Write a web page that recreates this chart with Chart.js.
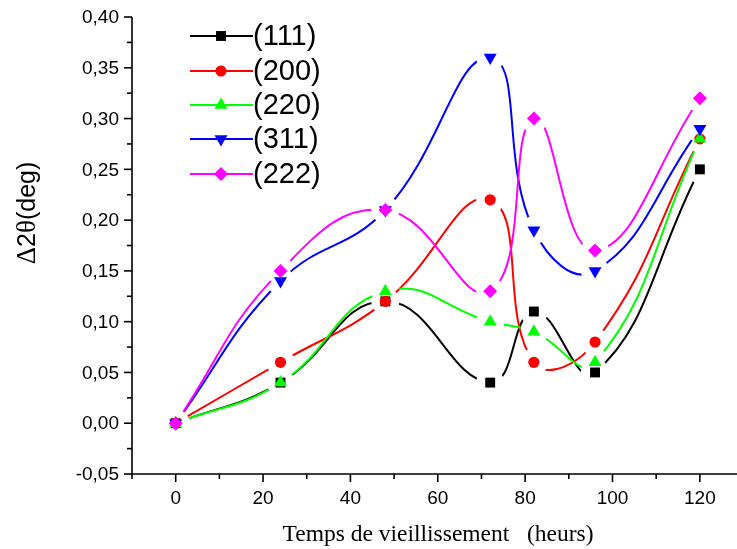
<!DOCTYPE html>
<html>
<head>
<meta charset="utf-8">
<script src="https://cdn.jsdelivr.net/npm/chart.js@4"></script>
<style>
  body { margin: 0; background: #fff; }
  canvas { display: block; }
</style>
</head>
<body>
<canvas id="chart" width="737" height="549"></canvas>
<script>
// ageing time (hours) and peak shift per reflection
const hours = [0, 24, 48, 72, 82, 96, 120];
const shift111 = [0, 0.04, 0.12, 0.04, 0.11, 0.05, 0.25];
const shift200 = [0, 0.06, 0.12, 0.22, 0.06, 0.08, 0.28];
const shift220 = [0, 0.04, 0.13, 0.10, 0.09, 0.06, 0.28];
const shift311 = [0, 0.14, 0.21, 0.36, 0.19, 0.15, 0.29];
const shift222 = [0, 0.15, 0.21, 0.13, 0.30, 0.17, 0.32];

const seriesNames = ['(111)', '(200)', '(220)', '(311)', '(222)'];
const xTicks = [0, 20, 40, 60, 80, 100, 120];
const yTicks = [-0.05, 0, 0.05, 0.10, 0.15, 0.20, 0.25, 0.30, 0.35, 0.40];

const xTitle = 'Temps de vieillissement   (heurs)';

const SANS = '"Liberation Sans", Arial, sans-serif';
const SERIF = '"Liberation Serif", "Times New Roman", serif';

const styles = [
    { color: '#000000', pointStyle: 'rect', radius: 7, rotation: 0 },
    { color: '#ff0000', pointStyle: 'circle', radius: 5.6, rotation: 0 },
    { color: '#00ff00', pointStyle: 'triangle', radius: 7.5, rotation: 0 },
    { color: '#0000ff', pointStyle: 'triangle', radius: 7.5, rotation: 180 },
    { color: '#ff00ff', pointStyle: 'rectRot', radius: 7, rotation: 0 }
];

const allShifts = [shift111, shift200, shift220, shift311, shift222];

const datasets = allShifts.map((vals, i) => ({
    label: seriesNames[i],
    data: hours.map((h, j) => ({ x: h, y: vals[j] })),
    borderColor: styles[i].color,
    backgroundColor: styles[i].color,
    pointBackgroundColor: styles[i].color,
    pointBorderColor: styles[i].color,
    pointBorderWidth: 0,
    pointStyle: styles[i].pointStyle,
    pointRotation: styles[i].rotation,
    pointRadius: styles[i].radius,
    borderWidth: 2,
    tension: 0.45,
    showLine: true,
    fill: false,
    order: 5 - i
}));

// line breaks around each marker: punch holes in the clip before the
// dataset is drawn, then put its markers back on top afterwards
const GAP = 14;
const gapPlugin = {
    id: 'markerGaps',
    beforeDatasetDraw(chart, args) {
        const ctx = chart.ctx;
        ctx.save();
        ctx.beginPath();
        ctx.rect(0, 0, chart.width, chart.height);
        args.meta.data.forEach(p => {
            ctx.moveTo(p.x + GAP, p.y);
            ctx.arc(p.x, p.y, GAP, 0, Math.PI * 2, true);
            ctx.closePath();
        });
        ctx.clip('evenodd');
    },
    afterDatasetDraw(chart, args) {
        const ctx = chart.ctx;
        ctx.restore();
        args.meta.data.forEach(p => p.draw(ctx));
    }
};

// axes, ticks, labels, titles and legend
const framePlugin = {
    id: 'frame',
    afterDraw(chart) {
        const ctx = chart.ctx;
        const xs = chart.scales.x;
        const ys = chart.scales.y;
        const area = chart.chartArea;
        ctx.save();
        ctx.strokeStyle = '#000';
        ctx.fillStyle = '#000';
        ctx.lineWidth = 1.6;

        // axis lines
        ctx.beginPath();
        ctx.moveTo(area.left, area.top);
        ctx.lineTo(area.left, area.bottom);
        ctx.lineTo(area.right, area.bottom);
        ctx.stroke();

        // y ticks
        ctx.font = '19px ' + SANS;
        ctx.textAlign = 'right';
        ctx.textBaseline = 'middle';
        yTicks.forEach((v, i) => {
            const y = ys.getPixelForValue(v);
            ctx.beginPath();
            ctx.moveTo(area.left - 8, y);
            ctx.lineTo(area.left, y);
            ctx.stroke();
            ctx.fillText(v.toFixed(2).replace('.', ','), area.left - 13, y + 1);
            if (i < yTicks.length - 1) {
                const ym = ys.getPixelForValue(v + 0.025);
                ctx.beginPath();
                ctx.moveTo(area.left - 5, ym);
                ctx.lineTo(area.left, ym);
                ctx.stroke();
            }
        });

        // x ticks
        ctx.textAlign = 'center';
        xTicks.forEach(v => {
            const x = xs.getPixelForValue(v);
            ctx.beginPath();
            ctx.moveTo(x, area.bottom);
            ctx.lineTo(x, area.bottom + 8);
            ctx.stroke();
            ctx.fillText(String(v), x, area.bottom + 25);
        });
        [-10, 10, 30, 50, 70, 90, 110].forEach(v => {
            const x = xs.getPixelForValue(v);
            ctx.beginPath();
            ctx.moveTo(x, area.bottom);
            ctx.lineTo(x, area.bottom + 5);
            ctx.stroke();
        });

        // x title
        ctx.font = '23.5px ' + SERIF;
        ctx.textBaseline = 'alphabetic';
        ctx.fillText(xTitle, 438, 541);

        // y title, rotated
        ctx.save();
        ctx.translate(35, 213);
        ctx.rotate(-Math.PI / 2);
        const parts = [['Δ', '27px ' + SERIF], ['2', '25px ' + SANS], ['θ', '27px ' + SERIF], ['(deg)', '25px ' + SANS]];
        let total = 0;
        parts.forEach(p => { ctx.font = p[1]; total += ctx.measureText(p[0]).width; });
        let cx = -total / 2;
        ctx.textAlign = 'left';
        parts.forEach(p => {
            ctx.font = p[1];
            ctx.fillText(p[0], cx, 0);
            cx += ctx.measureText(p[0]).width;
        });
        ctx.restore();

        // legend
        const rowY = [36, 71, 105, 139, 174];
        ctx.font = '29px ' + SANS;
        ctx.textAlign = 'left';
        ctx.textBaseline = 'middle';
        datasets.forEach((ds, i) => {
            const y = rowY[i];
            ctx.strokeStyle = ds.borderColor;
            ctx.lineWidth = 2;
            ctx.beginPath();
            ctx.moveTo(190, y);
            ctx.lineTo(253, y);
            ctx.stroke();
            ctx.fillStyle = ds.pointBackgroundColor;
            Chart.helpers.drawPoint(ctx, {
                pointStyle: ds.pointStyle,
                rotation: ds.pointRotation,
                radius: ds.pointRadius,
                borderWidth: 0
            }, 221, y);
            ctx.fillStyle = '#000';
            ctx.fillText(ds.label, 253, y + 1);
        });
        ctx.restore();
    }
};

new Chart(document.getElementById('chart'), {
    type: 'scatter',
    data: { datasets: datasets },
    options: {
        responsive: false,
        animation: false,
        devicePixelRatio: 1,
        layout: { autoPadding: false, padding: { left: 132, top: 17, right: 0, bottom: 75 } },
        plugins: { legend: { display: false }, tooltip: { enabled: false } },
        scales: {
            x: { type: 'linear', min: -10, max: 128.5, display: false },
            y: { type: 'linear', min: -0.05, max: 0.40, display: false }
        }
    },
    plugins: [gapPlugin, framePlugin]
});
</script>
</body>
</html>
